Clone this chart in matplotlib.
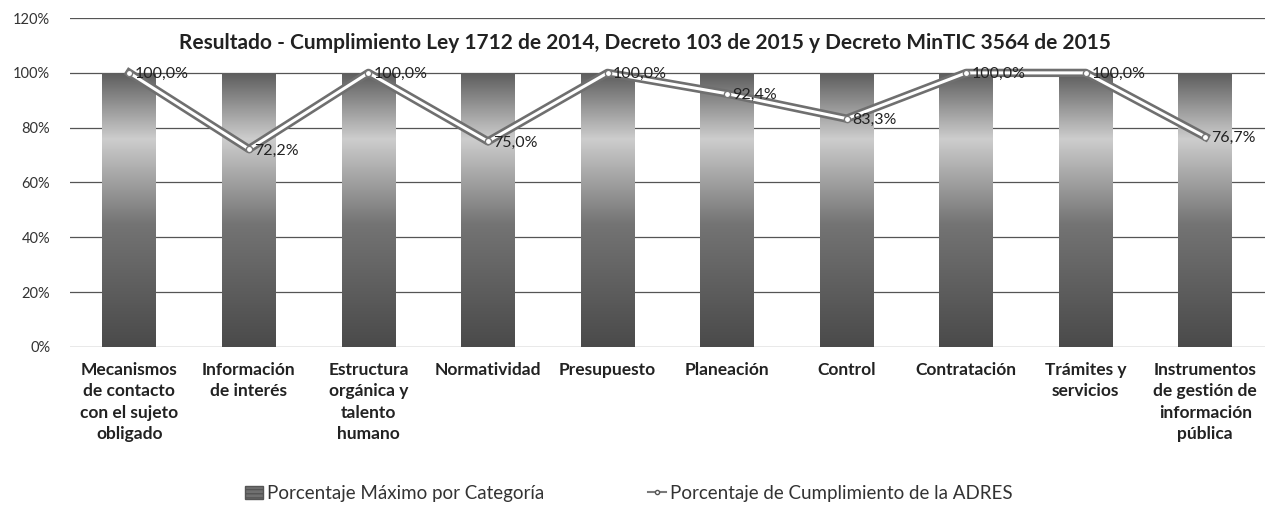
import numpy as np
import matplotlib
matplotlib.use("Agg")
from matplotlib import pyplot as plt
from matplotlib.colors import LinearSegmentedColormap
from matplotlib.lines import Line2D
from matplotlib.patches import Patch

categorias = [
    "Mecanismos\nde contacto\ncon el sujeto\nobligado",
    "Información\nde interés",
    "Estructura\norgánica y\ntalento\nhumano",
    "Normatividad",
    "Presupuesto",
    "Planeación",
    "Control",
    "Contratación",
    "Trámites y\nservicios",
    "Instrumentos\nde gestión de\ninformación\npública",
]
maximo = [1.0, 1.0, 1.0, 1.0, 1.0, 1.0, 1.0, 1.0, 1.0, 1.0]
cumplimiento = [1.0, 0.722, 1.0, 0.75, 1.0, 0.924, 0.833, 1.0, 1.0, 0.767]
etiquetas = ["100,0%", "72,2%", "100,0%", "75,0%", "100,0%", "92,4%", "83,3%",
             "100,0%", "100,0%", "76,7%"]
yticks = [0, 0.2, 0.4, 0.6, 0.8, 1.0, 1.2]

plt.rcParams["font.family"] = ["Lato", "DejaVu Sans"]

fig = plt.figure(figsize=(12.65, 5.32), dpi=100)
ax = fig.add_axes([0.055, 0.348, 0.945, 0.618])

x = np.arange(len(categorias))
ancho = 0.45

# gradiente gris de las barras (oscuro abajo, claro hacia 75%, oscuro arriba)
cmap = LinearSegmentedColormap.from_list(
    "gris", [(0, "#4a4a4a"), (0.45, "#747474"), (0.76, "#cdcdcd"), (1.0, "#5e5e5e")])
grad = np.linspace(0, 1, 256).reshape(-1, 1)
for xi, v in zip(x, maximo):
    ax.imshow(grad, cmap=cmap, origin="lower", aspect="auto",
              extent=[xi - ancho / 2, xi + ancho / 2, 0, v], zorder=2)

# linea doble (borde gris con centro blanco)
ax.plot(x, cumplimiento, color="#6f6f6f", lw=6, zorder=3)
ax.plot(x, cumplimiento, color="white", lw=2.2, zorder=4, marker="o", ms=4.5,
        mfc="white", mec="#777777", mew=1)

for xi, v, t in zip(x, cumplimiento, etiquetas):
    ax.annotate(t, (xi, v), xytext=(4, -1), textcoords="offset points",
                ha="left", va="center", fontsize=11.5, color="#222222", zorder=5)

ax.set_xlim(-0.5, len(categorias) - 0.5)
ax.set_ylim(0, 1.2)
ax.set_yticks(yticks)
ax.set_yticklabels([f"{int(round(t * 100))}%" for t in yticks], fontsize=10.5, color="#333333")
ax.set_xticks(x)
ax.set_xticklabels(categorias, fontsize=12.5, fontweight="bold", color="#222222",
                   linespacing=1.4, va="top")
ax.tick_params(axis="both", length=0)
ax.tick_params(axis="x", pad=11)
ax.tick_params(axis="y", pad=14)
ax.grid(axis="y", color="#555555", lw=0.9, zorder=1)
for s in ax.spines.values():
    s.set_visible(False)

fig.text(0.51, 0.92, "Resultado - Cumplimiento Ley 1712 de 2014, Decreto 103 de 2015 y Decreto MinTIC 3564 de 2015",
         ha="center", va="center", fontsize=15, fontweight="bold", color="#222222")

handles = [
    Patch(facecolor="#707070", edgecolor="#555555", hatch="----"),
    Line2D([0], [0], color="#7a7a7a", lw=1.5, marker="o", ms=3, mfc="white", mec="#555555"),
]
fig.legend(handles, ["Porcentaje Máximo por Categoría", "Porcentaje de Cumplimiento de la ADRES"],
           loc="center", bbox_to_anchor=(0.497, 0.073), ncol=2, frameon=False,
           fontsize=13.5, handlelength=1.0, handletextpad=0.2, columnspacing=5.5,
           labelcolor="#333333")

fig.savefig("out.png", dpi=100)
